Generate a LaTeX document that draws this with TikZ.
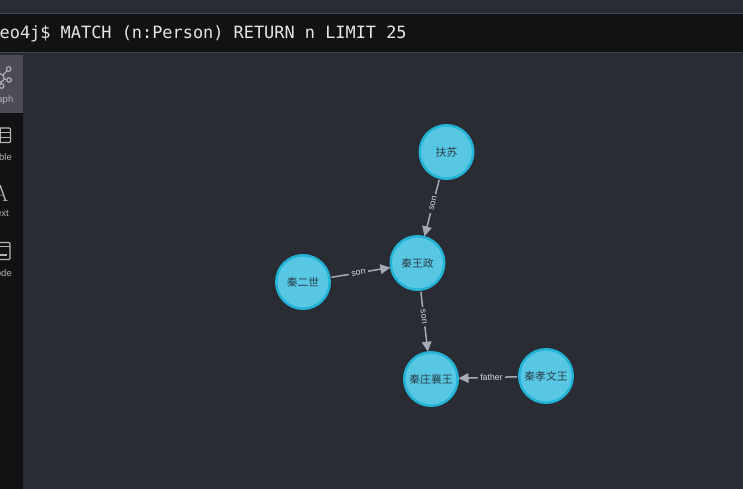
\documentclass[tikz,border=0pt]{standalone}
\usepackage{fontspec}
\setmainfont{Liberation Sans}
\setmonofont{DejaVu Sans Mono}
\newfontfamily\cjk{Noto Sans CJK SC}
\usetikzlibrary{arrows.meta}
\definecolor{pagebg}{HTML}{2A2C33}
\definecolor{barbg}{HTML}{111213}
\definecolor{barline}{HTML}{3B4652}
\definecolor{tabbg}{HTML}{4E4B56}
\definecolor{nodefill}{HTML}{57C7E3}
\definecolor{nodeline}{HTML}{23B3D7}
\definecolor{nodetext}{HTML}{2A3F4A}
\definecolor{edgecol}{HTML}{A5ABB6}
\definecolor{labelcol}{HTML}{D8DADF}
\definecolor{sidetext}{HTML}{B5B5B8}
\newcommand{\nm}[1]{\raisebox{-1.3pt}{#1}}
\tikzset{
  person/.style={circle,draw=nodeline,fill=nodefill,line width=2.5pt,minimum size=53.5pt,inner sep=0pt,text=nodetext,font=\cjk\fontsize{10.8}{12}\selectfont},
  rel/.style={draw=edgecol,line width=1.5pt,-{Triangle[length=10pt,width=9.5pt]},shorten >=-0.5pt,shorten <=1pt},
  rellabel/.style={fill=pagebg,text=labelcol,font=\fontsize{8.8}{10}\selectfont,inner sep=2.5pt,sloped},
  sidelabel/.style={text=sidetext,font=\fontsize{9.5}{10}\selectfont,inner sep=0pt},
  icon/.style={draw=sidetext,line width=1.1pt},
}
\begin{document}
\begin{tikzpicture}[x=1pt,y=-1pt]
\useasboundingbox (0,0) rectangle (743,489);
\clip (0,0) rectangle (743,489);
\fill[pagebg] (0,0) rectangle (743,489);
\fill[barbg] (0,13) rectangle (743,52);
\draw[barline,line width=.7pt] (0,13) -- (743,13) (0,52) -- (743,52);
\fill[barbg] (0,55) rectangle (23,489);
\fill[tabbg] (0,55) rectangle (23,113);
\node[anchor=base west,inner sep=0pt,text=white!90!black,font=\ttfamily\fontsize{16.9}{18}\selectfont] (query) at (-0.5,39) {eo4j\$ MATCH (n:Person) RETURN n LIMIT 25};
% sidebar icons
\draw[icon] (0,78) -- (8.7,69) (0,78) -- (9,80) (0,78) -- (1.7,86);
\draw[icon,fill=tabbg] (0,78) circle (4.2) (8.7,69) circle (2.3) (9,80) circle (2.3) (1.7,86) circle (2.3);
\node[sidelabel,anchor=base east] (t1) at (13.5,102.5) {aph};
\draw[icon,rounded corners=1pt] (-4,128) rectangle (10.5,142.5);
\draw[icon] (-4,132.7) -- (10.5,132.7) (-4,137.6) -- (10.5,137.6) (0.5,128) -- (0.5,142.5);
\node[sidelabel,anchor=base east] (t2) at (12,160.5) {ble};
\node[anchor=base,inner sep=0pt,text=sidetext,font=\fontfamily{lmr}\fontsize{23}{24}\selectfont] (t3a) at (0.5,201) {A};
\node[sidelabel,anchor=base east] (t3) at (9,216.5) {ext};
\draw[icon,rounded corners=1pt] (-4,242.5) rectangle (10,259.5);
\draw[icon] (-4,246.5) -- (10,246.5) (-4,255) -- (6.5,255);
\node[sidelabel,anchor=base east] (t4) at (12,276.5) {ode};
% graph
\node[person] (fusu) at (446.5,152) {\nm{扶苏}};
\node[person] (zheng) at (417.5,263) {\nm{秦王政}};
\node[person] (ershi) at (303,282) {\nm{秦二世}};
\node[person] (zhuang) at (431,379) {\nm{秦庄襄王}};
\node[person] (xiao) at (546,376) {\nm{秦孝文王}};
\draw[rel] (fusu) -- node[rellabel,pos=.43] (l1) {son} (zheng);
\draw[rel] (ershi) -- node[rellabel,pos=.47] (l2) {son} (zheng);
\draw[rel] (zheng) -- node[rellabel,pos=.43] (l3) {son} (zhuang);
\draw[rel] (xiao) -- node[rellabel,pos=.45] (l4) {father} (zhuang);
\end{tikzpicture}
\end{document}
